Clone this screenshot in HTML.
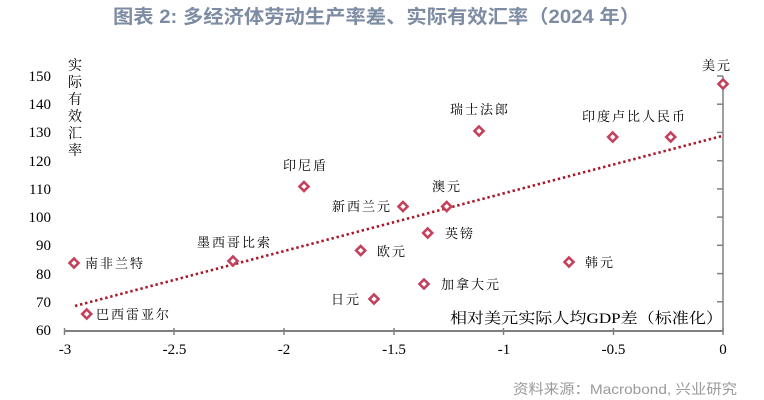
<!DOCTYPE html>
<html><head><meta charset="utf-8">
<style>
html,body{margin:0;padding:0;background:#fff;}
svg{display:block;}
.t{font-family:"Liberation Serif","Noto Serif CJK SC",serif;font-size:15px;fill:#000;}
.c{font-family:"Liberation Serif","Noto Serif CJK SC",serif;font-size:13px;fill:#000;letter-spacing:2px;}
</style></head>
<body>
<svg width="764" height="400" viewBox="0 0 764 400" xmlns="http://www.w3.org/2000/svg">
<rect width="764" height="400" fill="#fff"/>
<text x="113" y="23" textLength="527" lengthAdjust="spacingAndGlyphs" style="font-family:'Liberation Sans','Noto Sans CJK SC',sans-serif;font-size:19px;font-weight:bold;fill:#7d8ca3;">图表 2:  多经济体劳动生产率差、实际有效汇率（2024 年）</text>

<!-- y tick labels -->
<g class="t" text-anchor="end">
<text x="51" y="335">60</text>
<text x="51" y="307">70</text>
<text x="51" y="279">80</text>
<text x="51" y="250">90</text>
<text x="51" y="222">100</text>
<text x="51" y="194">110</text>
<text x="51" y="166">120</text>
<text x="51" y="137">130</text>
<text x="51" y="109">140</text>
<text x="51" y="81">150</text>
</g>
<!-- y axis title -->
<g class="c" style="font-size:14px;letter-spacing:0" text-anchor="middle">
<text x="75" y="70">实</text>
<text x="75" y="87">际</text>
<text x="75" y="104">有</text>
<text x="75" y="121">效</text>
<text x="75" y="138">汇</text>
<text x="75" y="155">率</text>
</g>

<!-- axes -->
<line x1="64" y1="331" x2="723" y2="331" stroke="#808080" stroke-width="2"/>
<line x1="723" y1="76" x2="723" y2="332" stroke="#808080" stroke-width="1.5"/>
<g stroke="#808080" stroke-width="1.5">
<line x1="64.5" y1="328" x2="64.5" y2="335"/>
<line x1="174" y1="328" x2="174" y2="335"/>
<line x1="284" y1="328" x2="284" y2="335"/>
<line x1="394" y1="328" x2="394" y2="335"/>
<line x1="503.5" y1="328" x2="503.5" y2="335"/>
<line x1="613.5" y1="328" x2="613.5" y2="335"/>
<line x1="723" y1="328" x2="723" y2="335"/>
<line x1="717" y1="76" x2="723" y2="76"/>
<line x1="717" y1="104.2" x2="723" y2="104.2"/>
<line x1="717" y1="132.4" x2="723" y2="132.4"/>
<line x1="717" y1="160.7" x2="723" y2="160.7"/>
<line x1="717" y1="188.9" x2="723" y2="188.9"/>
<line x1="717" y1="217.1" x2="723" y2="217.1"/>
<line x1="717" y1="245.3" x2="723" y2="245.3"/>
<line x1="717" y1="273.6" x2="723" y2="273.6"/>
<line x1="717" y1="301.8" x2="723" y2="301.8"/>
</g>
<!-- x tick labels -->
<g class="t" text-anchor="middle">
<text x="65" y="354">-3</text>
<text x="174.5" y="354">-2.5</text>
<text x="284" y="354">-2</text>
<text x="394" y="354">-1.5</text>
<text x="504" y="354">-1</text>
<text x="613.5" y="354">-0.5</text>
<text x="723" y="354">0</text>
</g>

<!-- trend line -->
<line x1="75" y1="306" x2="722" y2="136" stroke="#a8182a" stroke-width="2.6" stroke-dasharray="2.4 2.8"/>

<!-- points -->
<g fill="#fff" stroke="#c4415b" stroke-width="2.6">
<path d="M74,258.5 l4.5,4.5 l-4.5,4.5 l-4.5,-4.5z"/>
<path d="M86.7,309.5 l4.5,4.5 l-4.5,4.5 l-4.5,-4.5z"/>
<path d="M233,256.5 l4.5,4.5 l-4.5,4.5 l-4.5,-4.5z"/>
<path d="M304,182 l4.5,4.5 l-4.5,4.5 l-4.5,-4.5z"/>
<path d="M403,202 l4.5,4.5 l-4.5,4.5 l-4.5,-4.5z"/>
<path d="M446.7,202 l4.5,4.5 l-4.5,4.5 l-4.5,-4.5z"/>
<path d="M479,126.5 l4.5,4.5 l-4.5,4.5 l-4.5,-4.5z"/>
<path d="M427.7,228.5 l4.5,4.5 l-4.5,4.5 l-4.5,-4.5z"/>
<path d="M360.7,246 l4.5,4.5 l-4.5,4.5 l-4.5,-4.5z"/>
<path d="M424,279.5 l4.5,4.5 l-4.5,4.5 l-4.5,-4.5z"/>
<path d="M374,294.5 l4.5,4.5 l-4.5,4.5 l-4.5,-4.5z"/>
<path d="M569,257.5 l4.5,4.5 l-4.5,4.5 l-4.5,-4.5z"/>
<path d="M612.7,132.5 l4.5,4.5 l-4.5,4.5 l-4.5,-4.5z"/>
<path d="M670.7,132.5 l4.5,4.5 l-4.5,4.5 l-4.5,-4.5z"/>
<path d="M723,79.5 l4.5,4.5 l-4.5,4.5 l-4.5,-4.5z"/>
</g>

<!-- labels -->
<g class="c">
<text x="85" y="268">南非兰特</text>
<text x="96" y="319">巴西雷亚尔</text>
<text x="197" y="247">墨西哥比索</text>
<text x="283" y="170">印尼盾</text>
<text x="332" y="211">新西兰元</text>
<text x="432" y="191">澳元</text>
<text x="450" y="114">瑞士法郎</text>
<text x="445" y="238">英镑</text>
<text x="377" y="256">欧元</text>
<text x="441" y="289">加拿大元</text>
<text x="331" y="304">日元</text>
<text x="585" y="267">韩元</text>
<text x="582" y="121">印度卢比人民币</text>
<text x="702" y="70">美元</text>
</g>
<text x="450" y="323" textLength="273" lengthAdjust="spacingAndGlyphs" style="font-family:'Liberation Serif','Noto Serif CJK SC',serif;font-size:15px;fill:#000;">相对美元实际人均GDP差（标准化）</text>

<text x="513" y="394" textLength="224" lengthAdjust="spacingAndGlyphs" style="font-family:'Liberation Sans','Noto Sans CJK SC',sans-serif;font-size:14px;fill:#9a9a9a;">资料来源：Macrobond, 兴业研究</text>
</svg>
</body></html>
